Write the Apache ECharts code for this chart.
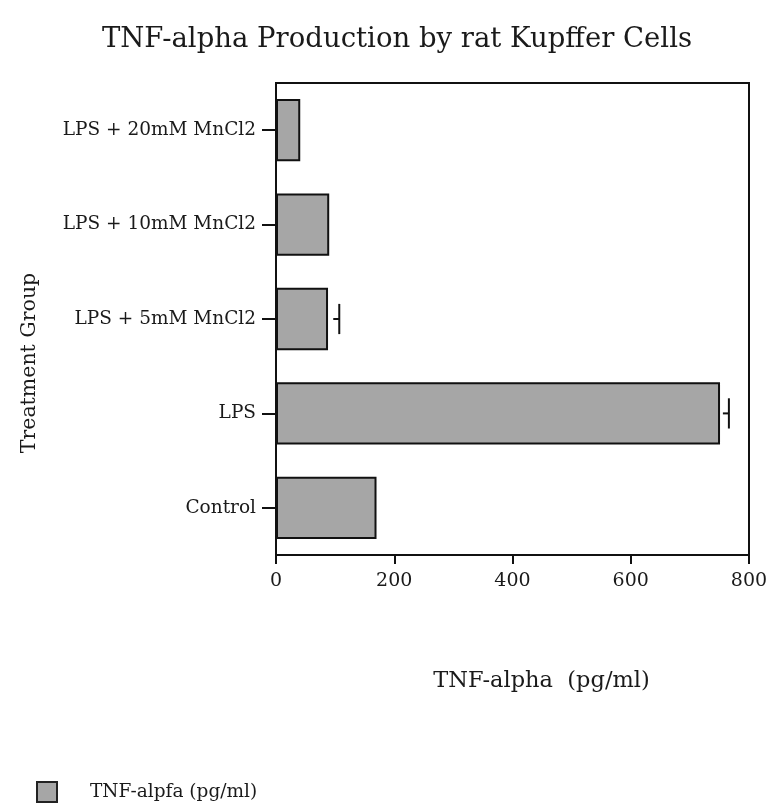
<!DOCTYPE html>
<html>
<head>
<meta charset="utf-8">
<script src="https://cdn.jsdelivr.net/npm/echarts@6/dist/echarts.min.js"></script>
<style>html,body{margin:0;padding:0;background:#fff;}#c{width:768px;height:806px;}</style>
</head>
<body>
<div id="c"></div>
<script>
const categories = ['Control', 'LPS', 'LPS + 5mM MnCl2', 'LPS + 10mM MnCl2', 'LPS + 20mM MnCl2'];
const values = [170, 751, 88, 90, 41];
const errors = [null, 15, 19, null, null];
const xTicks = [0, 200, 400, 600, 800];
const seriesName = 'TNF-alpfa (pg/ml)';

const FONT = '"DejaVu Serif", serif';
const chart = echarts.init(document.getElementById('c'));
const errData = [];
categories.forEach((c, i) => { if (errors[i] != null) errData.push([i, values[i], errors[i]]); });

chart.setOption({
  backgroundColor: '#fff',
  animation: false,
  title: {
    text: 'TNF-alpha Production by rat Kupffer Cells',
    left: 392, top: 21, textAlign: 'center',
    textStyle: { fontFamily: FONT, fontSize: 27.5, fontWeight: 'normal', color: '#1a1a1a' }
  },
  legend: {
    left: 31, top: 776, itemWidth: 20, itemHeight: 20, itemGap: 10,
    data: [{ name: seriesName, icon: 'rect' }],
    itemStyle: { borderColor: '#222', borderWidth: 2 },
    textStyle: { fontFamily: FONT, fontSize: 18.5, color: '#1a1a1a', padding: [0, 0, 0, 28] }
  },
  grid: { left: 276, right: 19, top: 83, bottom: 251, outerBoundsMode: 'none', containLabel: false, show: true, borderColor: '#111', borderWidth: 2, backgroundColor: 'transparent' },
  xAxis: {
    type: 'value', min: xTicks[0], max: xTicks[xTicks.length - 1], interval: 200,
    name: 'TNF-alpha  (pg/ml)', nameLocation: 'middle', nameGap: 115,
    nameTextStyle: { fontFamily: FONT, fontSize: 22.5, color: '#1a1a1a', padding: [0, 0, 0, 58] },
    axisLine: { show: true, lineStyle: { color: '#111', width: 2 } },
    axisTick: { show: true, length: 9, lineStyle: { color: '#111', width: 2 } },
    axisLabel: { fontFamily: FONT, fontSize: 19, color: '#1a1a1a', margin: 17 },
    splitLine: { show: false }
  },
  yAxis: {
    type: 'category', data: categories,
    name: 'Treatment Group', nameLocation: 'middle', nameGap: 236, nameRotate: 90,
    nameTextStyle: { fontFamily: FONT, fontSize: 20.5, color: '#1a1a1a', padding: [0, 88, 0, 0] },
    axisLine: { show: true, lineStyle: { color: '#111', width: 2 } },
    axisTick: { show: true, alignWithLabel: true, inside: false, length: 14, lineStyle: { color: '#111', width: 2 } },
    axisLabel: { fontFamily: FONT, fontSize: 18.5, color: '#1a1a1a', margin: 20 }
  },
  series: [
    {
      name: seriesName, type: 'bar', data: values, barWidth: '66%',
      itemStyle: { color: '#a6a6a6', borderColor: '#111', borderWidth: 2 }
    },
    {
      type: 'custom', name: 'err', data: errData, z: 5,
      renderItem: function (params, api) {
        const i = api.value(0), v = api.value(1), e = api.value(2);
        const end = api.coord([v + e, i]);
        const half = api.size([0, 1])[1] * 0.16;
        return {
          type: 'group',
          children: [
            { type: 'line', shape: { x1: end[0], y1: end[1] - half, x2: end[0], y2: end[1] + half }, style: { stroke: '#111', lineWidth: 2 } },
            { type: 'line', shape: { x1: end[0] - 6, y1: end[1], x2: end[0], y2: end[1] }, style: { stroke: '#111', lineWidth: 2 } }
          ]
        };
      }
    }
  ]
});
</script>
</body>
</html>
